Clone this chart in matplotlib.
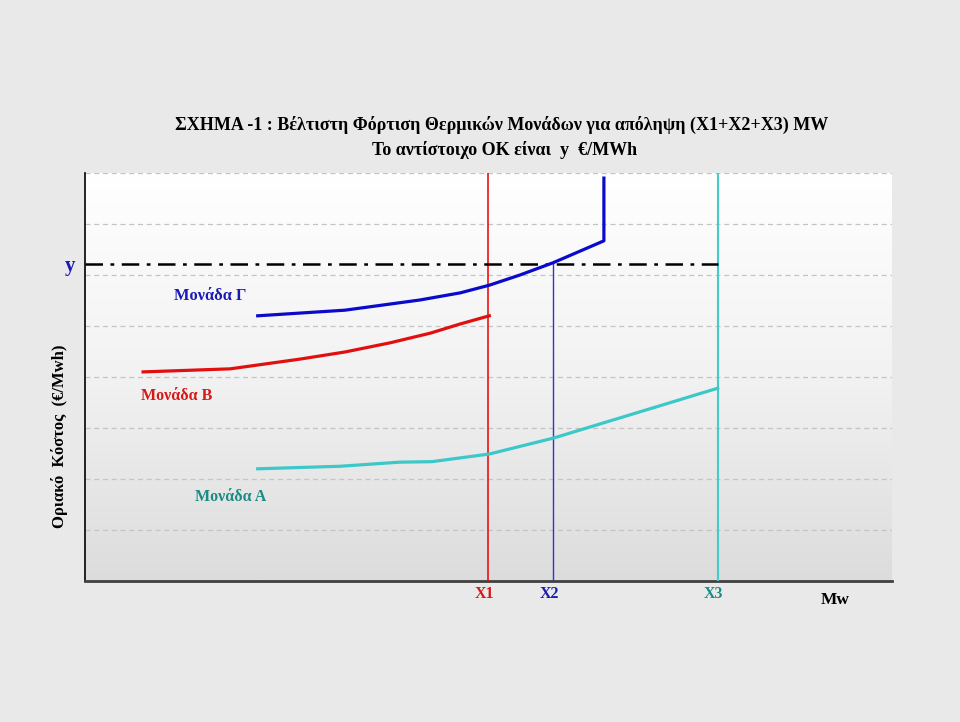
import numpy as np
import matplotlib
matplotlib.use("Agg")
import matplotlib.pyplot as plt
from matplotlib.colors import LinearSegmentedColormap

# ---- data ----
unit_g_x = [21.4, 32.2, 41.5, 46.5, 50.1, 53.9, 58.0, 64.3, 64.3]
unit_g_y = [5.20, 5.31, 5.51, 5.65, 5.80, 6.00, 6.24, 6.67, 7.90]

unit_b_x = [7.2, 18.0, 26.6, 32.2, 37.8, 42.8, 46.5, 50.1]
unit_b_y = [4.10, 4.16, 4.35, 4.49, 4.67, 4.86, 5.04, 5.20]

unit_a_x = [21.4, 31.6, 39.0, 43.0, 50.1, 58.0, 78.4]
unit_a_y = [2.20, 2.25, 2.33, 2.34, 2.49, 2.80, 3.78]

x1, x2, x3 = 50.0, 58.0, 78.4
y_level = 6.22

x_marks = ["X1", "X2", "X3"]
unit_labels = ["Μονάδα Γ", "Μονάδα Β", "Μονάδα Α"]

title_1 = "ΣΧΗΜΑ -1 : Βέλτιστη Φόρτιση Θερμικών Μονάδων για απόληψη (X1+X2+X3) MW"
title_2 = "Το αντίστοιχο ΟΚ είναι  y  €/MWh"
ylabel = "Οριακό  Κόστος  (€/Mwh)"
xlabel = "Mw"

plt.rcParams['font.family'] = ['Liberation Serif', 'DejaVu Serif']

fig = plt.figure(figsize=(9.6, 7.22), dpi=100, facecolor='#e9e9e9')
ax = fig.add_axes([85/960, 1-581/722, (892-85)/960, (581-173)/722])
ax.set_facecolor('none')

# gradient background
cmap = LinearSegmentedColormap.from_list('bg', ['#ffffff', '#f2f2f2', '#dcdcdc'])
ax.imshow(np.linspace(0, 1, 256).reshape(-1, 1), extent=[0, 1, 0, 1],
          transform=ax.transAxes, cmap=cmap, aspect='auto', zorder=0)

ax.set_xlim(0, 100)
ax.set_ylim(0, 8)

for gy in range(1, 9):
    ax.axhline(gy, color='#c4c4c4', lw=0.9, dashes=(4, 3), zorder=1)

# vertical lines
ax.plot([x1, x1], [0, 8], color='#ee1111', lw=1.2, zorder=3)
ax.plot([x2, x2], [0, y_level], color='#3333cc', lw=1.0, zorder=3)
ax.plot([x3, x3], [0, 8], color='#44cccc', lw=1.5, zorder=3)

# level line
ax.plot([0, x3], [y_level, y_level], color='black', lw=1.8,
        linestyle=(0, (7, 3, 1.5, 3)), zorder=4)

# curves
ax.plot(unit_g_x, unit_g_y, color='#0a0acc', lw=2.3, zorder=5, solid_joinstyle='round')
ax.plot(unit_b_x, unit_b_y, color='#e01010', lw=2.3, zorder=5, solid_joinstyle='round')
ax.plot(unit_a_x, unit_a_y, color='#3cc8c8', lw=2.3, zorder=5, solid_joinstyle='round')

# unit labels
ax.text(15.5, 5.59, unit_labels[0], color='#1a1ab4', fontsize=11.8, fontweight='bold',
        ha='center', va='center')
ax.text(11.4, 3.63, unit_labels[1], color='#d81818', fontsize=11.5, fontweight='bold',
        ha='center', va='center')
ax.text(18.0, 1.65, unit_labels[2], color='#1a8c84', fontsize=11.5, fontweight='bold',
        ha='center', va='center')

ax.text(-1.9, 6.18, "y", color='#1a1ab4', fontsize=15, fontweight='bold',
        ha='center', va='center', clip_on=False)

# x marks
for xm, lab, c in zip([x1, x2, x3], x_marks, ['#d81818', '#1a1ab4', '#1a8c84']):
    ax.text(xm - 0.5, -0.25, lab, color=c, fontsize=11.5, fontweight='bold',
            ha='center', va='center', clip_on=False)
ax.text(92.9, -0.37, xlabel, color='black', fontsize=12.5, fontweight='bold',
        ha='center', va='center', clip_on=False)

# spines & ticks
for s in ['top', 'right']:
    ax.spines[s].set_visible(False)
ax.spines['left'].set_color('black')
ax.spines['left'].set_linewidth(1.2)
ax.spines['bottom'].set_color('#404040')
ax.spines['bottom'].set_linewidth(2.0)
ax.set_xticks([])
ax.set_yticks([])

# titles
fig.text(502/960, 1-125/722, title_1, ha='center', va='center', fontsize=13,
         fontweight='bold')
fig.text(505/960, 1-150/722, title_2, ha='center', va='center', fontsize=13,
         fontweight='bold')
fig.text(60/960, 1-436/722, ylabel, ha='center', va='center', fontsize=12,
         fontweight='bold', rotation=90)

fig.savefig('out.png', dpi=100, facecolor=fig.get_facecolor())
